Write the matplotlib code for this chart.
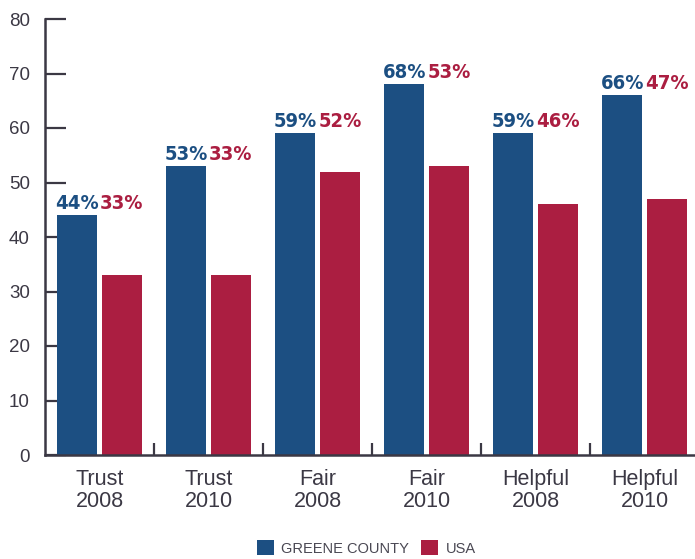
import matplotlib
matplotlib.use("Agg")
import matplotlib.pyplot as plt
from matplotlib.patches import Patch
import numpy as np

categories = ["Trust\n2008", "Trust\n2010", "Fair\n2008", "Fair\n2010", "Helpful\n2008", "Helpful\n2010"]
greene = [44, 53, 59, 68, 59, 66]
usa = [33, 33, 52, 53, 46, 47]
series_names = ["GREENE COUNTY", "USA"]
y_ticks = [0, 10, 20, 30, 40, 50, 60, 70, 80]

BLUE = "#1c4f82"
RED = "#ab1e41"
INK = "#3b3844"

plt.rcParams["font.family"] = ["Liberation Sans", "DejaVu Sans"]

fig = plt.figure(figsize=(6.95, 5.59), dpi=100)
ax = fig.add_axes([45 / 695, 104 / 559, 654 / 695, 436 / 559])

x = np.arange(len(categories))
w = 0.37
off = 0.205
ax.bar(x - off, greene, width=w, color=BLUE, zorder=2)
ax.bar(x + off, usa, width=w, color=RED, zorder=2)

# percentage labels sit above the taller bar of each pair
label_font = dict(fontsize=14.5, fontweight="bold", family="DejaVu Sans", fontstretch="condensed")
for xi, g, u in zip(x, greene, usa):
    top = max(g, u)
    ax.text(xi - off, top + 0.45, f"{g}%", ha="center", va="bottom", color=BLUE, **label_font)
    ax.text(xi + off, top + 0.45, f"{u}%", ha="center", va="bottom", color=RED, **label_font)

ax.set_xlim(-0.5, len(categories) - 0.5)
ax.set_ylim(0, 80)
ax.set_yticks(y_ticks)
ax.tick_params(axis="y", direction="in", length=15, width=1.6, color=INK,
               labelsize=13.5, labelcolor=INK, pad=11)
ax.set_xticks(x)
ax.set_xticklabels(categories, fontsize=15.5, color=INK, linespacing=1.05)
ax.tick_params(axis="x", which="major", length=0, pad=10)
ax.set_xticks(x[:-1] + 0.5, minor=True)
ax.tick_params(axis="x", which="minor", direction="in", length=9, width=1.6, color=INK)

for side in ["top", "right"]:
    ax.spines[side].set_visible(False)
for side in ["left", "bottom"]:
    ax.spines[side].set_color(INK)
    ax.spines[side].set_linewidth(1.8)

handles = [Patch(facecolor=BLUE), Patch(facecolor=RED)]
fig.legend(handles, series_names, loc="center", bbox_to_anchor=(0.527, 0.02),
           ncol=2, frameon=False, handlelength=1.2, handleheight=1.2,
           handletextpad=0.5, columnspacing=0.8, fontsize=10.5,
           labelcolor="#4a4853", borderaxespad=0)

fig.savefig("out.png", dpi=100)
